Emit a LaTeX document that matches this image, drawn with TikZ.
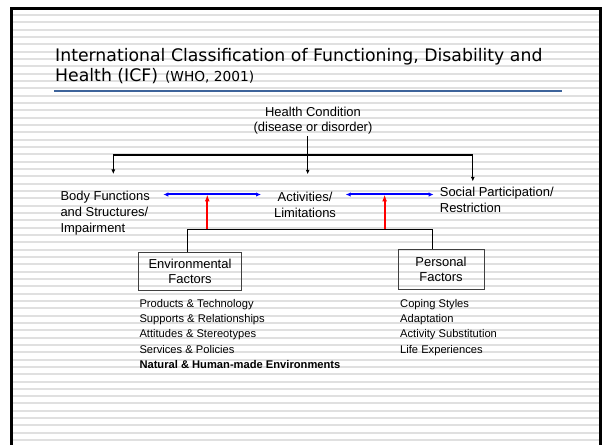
\documentclass[tikz,border=0pt]{standalone}
\usepackage{fontspec}
\setmainfont{Liberation Sans}
\newfontfamily\titlefont{DejaVu Sans}
\usetikzlibrary{arrows.meta}
\definecolor{rulecolor}{RGB}{62,100,155}
\definecolor{stripecolor}{RGB}{224,224,224}
\definecolor{boxcolor}{RGB}{64,64,64}

\begin{document}
\begin{tikzpicture}[x=1bp, y=-1bp]
            \tikzstyle{stripe} = [stripecolor, line width=2bp]
            \tikzstyle{frame} = [line width=3bp, line join=miter]
            \tikzstyle{heading} = [anchor=base west, inner sep=0pt, font=\titlefont\fontsize{17.35}{20}\selectfont]
            \tikzstyle{label} = [inner sep=0pt, font=\fontsize{13}{16}\selectfont]
            \tikzstyle{factor} = [draw=boxcolor, line width=1bp, inner sep=0pt, align=center, font=\fontsize{13}{15.2}\selectfont]
            \tikzstyle{items} = [inner sep=0pt, align=left, anchor=north west, font=\fontsize{11.2}{15.2}\selectfont]
            \tikzstyle{branch} = [line width=1.3bp, -{Latex[length=4.5bp,width=4bp]}]
            \tikzstyle{link} = [line width=1.3bp]
            \tikzstyle{interaction} = [blue, line width=2bp, {Latex[length=5bp,width=4.5bp]}-{Latex[length=5bp,width=4.5bp]}]
            \tikzstyle{context} = [red, line width=2bp, -{Latex[length=7bp,width=5bp]}]
            \useasboundingbox (0,0) rectangle (602,445);
            \fill[white] (0,0) rectangle (602,445);
            \foreach \k in {0,...,58}
                \draw[stripe] (13,15+7.33*\k) -- (598.5,15+7.33*\k);
            \draw[frame] (11.3,446) -- (11.3,8.7) -- (600,8.7) -- (600,446);
            \node[heading] (title1) at (55,61.7) {International Classification of Functioning, Disability and};
            \node[heading] (title2) at (55,81.7) {Health (ICF)\hspace{7bp}{\fontsize{13.8}{16}\selectfont (WHO, 2001)}};
            \draw[rulecolor, line width=2.3bp] (54,90.7) -- (561.7,90.7);
            \node[label, align=center, anchor=north, font=\fontsize{13}{14.5}\selectfont] (health) at (313,107.4) {Health Condition\\(disease or disorder)};
            \node[label, align=left, anchor=north west] (body) at (60.3,191.3) {Body Functions\\and Structures/\\Impairment};
            \node[label, align=center, anchor=north] (activity) at (305,192) {Activities/\\Limitations};
            \node[label, align=left, anchor=north west] (participation) at (439.7,187.2) {Social Participation/\\Restriction};
            \node[factor, minimum width=103.4bp, minimum height=38.2bp] (env) at (190,271.4) {Environmental\\Factors};
            \node[factor, minimum width=86bp, minimum height=39.5bp] (pers) at (441,269.75) {Personal\\Factors};
            \node[items] (envlist) at (139.3,299.3) {Products \& Technology\\Supports \& Relationships\\Attitudes \& Stereotypes\\Services \& Policies\\\textbf{Natural \& Human-made Environments}};
            \node[items] (perslist) at (400,299.3) {Coping Styles\\Adaptation\\Activity Substitution\\Life Experiences};
            \coordinate (split) at (307.7,155);
            \coordinate (bodyin) at (113.3,174);
            \coordinate (activityin) at (307.7,174.3);
            \coordinate (participationin) at (472.8,181.4);
            \draw[branch, shorten <=2bp] (health.south -| split) -- (activityin);
            \draw[line width=2.5bp] (bodyin |- split) -- (participationin |- split);
            \draw[branch] (bodyin |- split) -- (bodyin);
            \draw[branch] (participationin |- split) -- (participationin);
            \coordinate (bodyright) at (163.3,194.5);
            \coordinate (activityleft) at (261,194.5);
            \coordinate (activityright) at (345.7,194.5);
            \coordinate (participationleft) at (433.6,194.5);
            \draw[interaction] (bodyright) -- (activityleft);
            \draw[interaction] (activityright) -- (participationleft);
            \coordinate (envtop) at (187.5,229.3);
            \coordinate (perstop) at (432.6,229.3);
            \draw[link] (env.north -| envtop) -- (envtop) -- (perstop) -- (pers.north -| perstop);
            \coordinate (envup) at (207.3,229.3);
            \coordinate (persup) at (384.6,229.3);
            \draw[context] (envup) -- (envup |- bodyright);
            \draw[context] (persup) -- (persup |- activityright);
        \end{tikzpicture}
\end{document}
